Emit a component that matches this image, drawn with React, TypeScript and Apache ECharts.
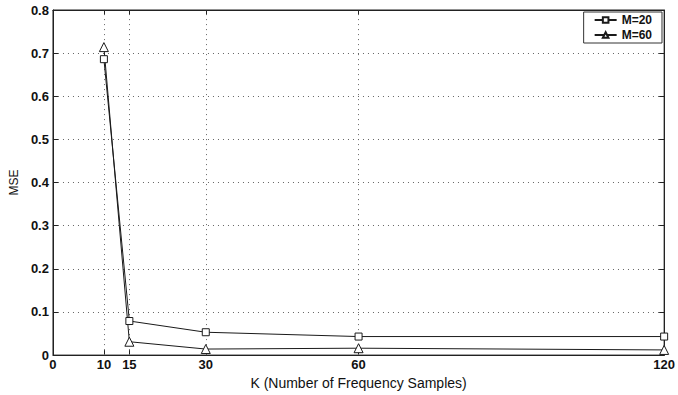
import React, { useEffect, useRef } from "react";
import * as echarts from "echarts";

const kValues = [10, 15, 30, 60, 120];
const mse20 = [0.686, 0.079, 0.053, 0.043, 0.043];
const mse60 = [0.714, 0.031, 0.014, 0.016, 0.012];
const xTicks = [0, 10, 15, 30, 60, 120];
const xGridLines = [10, 15, 30, 60];
const seriesNames = ["M=20", "M=60"];

const FONT = "'Liberation Sans', Arial, sans-serif";

export default function App() {
  const ref = useRef<HTMLDivElement>(null);
  useEffect(() => {
    if (!ref.current) return;
    const chart = echarts.init(ref.current, null, { renderer: "svg" });
    const lineColor = "#1a1a1a";
    const tickCommon = { inside: true, length: 5, lineStyle: { color: "#222" } };
    chart.setOption({
      animation: false,
      backgroundColor: "#fff",
      textStyle: { fontFamily: FONT },
      grid: {
        left: 47,
        right: 10,
        top: 10,
        bottom: 33,
        show: true,
        borderColor: "#222",
        borderWidth: 1,
        backgroundColor: "transparent",
      },
      legend: {
        data: seriesNames,
        orient: "vertical",
        right: 16,
        top: 12,
        borderColor: "#333",
        borderWidth: 1,
        padding: [1, 10, 1, 10],
        itemGap: 1,
        itemWidth: 22,
        itemHeight: 7,
        textStyle: { fontFamily: FONT, fontSize: 12, lineHeight: 14, fontWeight: "bold", color: "#111" },
        backgroundColor: "#fff",
      },
      xAxis: [
        {
          type: "value",
          min: 0,
          max: 120,
          name: "K (Number of Frequency Samples)",
          nameLocation: "middle",
          nameGap: 16,
          nameTextStyle: { fontFamily: FONT, fontSize: 14, color: "#111" },
          axisLine: { show: true, onZero: false, lineStyle: { color: "#222" } },
          axisTick: { ...tickCommon, customValues: xTicks },
          axisLabel: {
            customValues: xTicks,
            margin: 3,
            fontFamily: FONT,
            fontSize: 13,
            fontWeight: "bold",
            color: "#111",
          },
          splitLine: { show: false },
        },
        {
          type: "value",
          position: "top",
          min: 0,
          max: 120,
          axisLine: { show: true, onZero: false, lineStyle: { color: "#222" } },
          axisTick: { ...tickCommon, customValues: xTicks },
          axisLabel: { show: false },
          splitLine: { show: false },
        },
      ],
      yAxis: [
        {
          type: "value",
          min: 0,
          max: 0.8,
          interval: 0.1,
          name: "MSE",
          nameLocation: "middle",
          nameGap: 31,
          nameTextStyle: { fontFamily: FONT, fontSize: 12, color: "#111" },
          axisLine: { show: true, onZero: false, lineStyle: { color: "#222" } },
          axisTick: tickCommon,
          axisLabel: {
            margin: 4,
            fontFamily: FONT,
            fontSize: 13,
            fontWeight: "bold",
            color: "#111",
            formatter: (v: number) => (v === 0 ? "0" : String(Math.round(v * 10) / 10)),
          },
          splitLine: {
            show: true,
            lineStyle: { type: [1, 4], color: "#666", width: 1 },
          },
        },
        {
          type: "value",
          position: "right",
          min: 0,
          max: 0.8,
          interval: 0.1,
          axisLine: { show: true, onZero: false, lineStyle: { color: "#222" } },
          axisTick: tickCommon,
          axisLabel: { show: false },
          splitLine: { show: false },
        },
      ],
      series: [
        {
          name: seriesNames[0],
          type: "line",
          data: kValues.map((k, i) => [k, mse20[i]]),
          symbol: "rect",
          symbolSize: 7,
          showAllSymbol: true,
          lineStyle: { color: lineColor, width: 1 },
          itemStyle: { color: "#fff", borderColor: lineColor, borderWidth: 1 },
          z: 3,
          markLine: {
            silent: true,
            symbol: "none",
            label: { show: false },
            lineStyle: { type: [1, 4], color: "#666", width: 1 },
            data: xGridLines.map((x) => ({ xAxis: x })),
            z: 1,
          },
        },
        {
          name: seriesNames[1],
          type: "line",
          data: kValues.map((k, i) => [k, mse60[i]]),
          symbol: "triangle",
          symbolSize: 9,
          showAllSymbol: true,
          lineStyle: { color: lineColor, width: 1 },
          itemStyle: { color: "#fff", borderColor: lineColor, borderWidth: 1 },
          z: 3,
        },
      ],
    });
    return () => chart.dispose();
  }, []);
  return <div ref={ref} style={{ width: 678, height: 395, position: "absolute", left: 0, top: 0 }} />;
}
